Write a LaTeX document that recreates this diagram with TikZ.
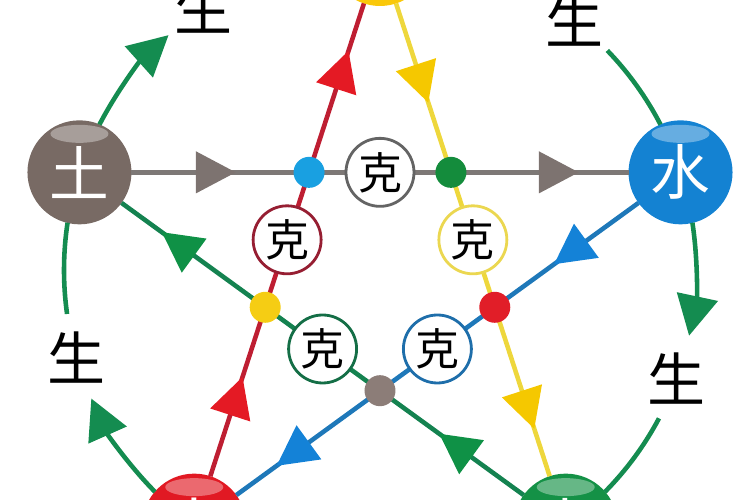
\documentclass[tikz,border=0pt]{standalone}
\usepackage{fontspec}
\newfontfamily\cjk{Noto Sans CJK SC}
\usetikzlibrary{arrows.meta}
\usetikzlibrary{decorations.markings}

\definecolor{tunode}{RGB}{120,106,100}
\definecolor{shuinode}{RGB}{20,130,210}
\definecolor{huonode}{RGB}{225,25,35}
\definecolor{munode}{RGB}{20,145,70}
\definecolor{jinnode}{RGB}{250,200,10}
\definecolor{tuline}{RGB}{125,120,118}
\definecolor{shuiline}{RGB}{30,120,185}
\definecolor{huoline}{RGB}{190,30,50}
\definecolor{muline}{RGB}{20,130,80}
\definecolor{jinline}{RGB}{238,215,60}
\definecolor{tuarrow}{RGB}{125,115,112}
\definecolor{shuiarrow}{RGB}{20,130,215}
\definecolor{huoarrow}{RGB}{228,26,36}
\definecolor{muarrow}{RGB}{15,145,70}
\definecolor{jinarrow}{RGB}{245,200,0}
\definecolor{kegray}{RGB}{100,100,100}
\definecolor{keyellow}{RGB}{235,215,80}
\definecolor{keblue}{RGB}{30,110,170}
\definecolor{kegreen}{RGB}{20,110,70}
\definecolor{kered}{RGB}{150,30,50}
\definecolor{dotblue}{RGB}{25,160,225}
\definecolor{dotgreen}{RGB}{20,140,60}
\definecolor{dotred}{RGB}{225,30,40}
\definecolor{dotgray}{RGB}{140,125,120}
\definecolor{dotyellow}{RGB}{245,205,20}
\definecolor{shenggreen}{RGB}{20,140,80}

\tikzset{
  elem/.style={circle, fill=#1, minimum size=2.08cm, inner sep=0pt, outer sep=0pt, text=white,
    font=\cjk\fontsize{34}{34}\selectfont,
    path picture={\fill[white, opacity=.35] ([yshift=-0.27cm]path picture bounding box.north) ellipse (0.58cm and 0.18cm);}},
  keline/.style 2 args={draw=#1, line width=2.6pt, postaction={decorate, decoration={markings,
      mark=at position 0.21 with {\arrow[#2]{Triangle[length=0.8cm, width=0.82cm]}},
      mark=at position 0.9 with {\arrow[#2]{Triangle[length=0.8cm, width=0.82cm]}}}}},
  kedot/.style={circle, fill=#1, minimum size=0.62cm, inner sep=0pt},
  kecirc/.style={circle, draw=#1, line width=1.6pt, fill=white, minimum size=1.36cm, inner sep=0pt,
    font=\cjk\fontsize{25}{25}\selectfont},
  shengarc/.style={draw=shenggreen, line width=2.6pt},
  shengtip/.style={-{Triangle[length=0.8cm, width=0.82cm]}},
  sheng/.style={font=\cjk\fontsize{33}{33}\selectfont},
}

\begin{document}
\begin{tikzpicture}
\useasboundingbox (-7.6,-4.6) rectangle (7.4,5.4);
\clip (-7.6,-4.6) rectangle (7.4,5.4);
\node[elem=jinnode] (jin) at (90:6.32) {金};
\node[elem=shuinode] (shui) at (18:6.32) {水};
\node[elem=munode] (mu) at (-54:6.32) {木};
\node[elem=huonode] (huo) at (234:6.32) {火};
\node[elem=tunode] (tu) at (162:6.32) {土};
\draw[keline={tuline}{tuarrow}] (tu) -- (shui);
\draw[keline={jinline}{jinarrow}] (jin) -- (mu);
\draw[keline={huoline}{huoarrow}] (huo) -- (jin);
\draw[keline={shuiline}{shuiarrow}] (shui) -- (huo);
\draw[keline={muline}{muarrow}] (mu) -- (tu);
\foreach \a/\c [count=\i] in {90/kegray, 18/keyellow, -54/keblue, 234/kegreen, 162/kered}
  \node[kecirc=\c] (ke\i) at (\a:1.953) {克};
\foreach \a/\c [count=\i] in {126/dotblue, 54/dotgreen, 342/dotred, 270/dotgray, 198/dotyellow}
  \node[kedot=\c] (dot\i) at (\a:2.414) {};
\foreach \s [count=\i] in {162, 90, 18, -54, 234} {
  \draw[shengarc, shengtip] ({\s-9.4}:6.32) arc[start angle=\s-9.4, end angle=\s-30, radius=6.32];
  \node[sheng] (sheng\i) at ({\s-38}:6.32) {生};
  \draw[shengarc] ({\s-46}:6.32) arc[start angle=\s-46, end angle=\s-62.6, radius=6.32];
}
\end{tikzpicture}
\end{document}
